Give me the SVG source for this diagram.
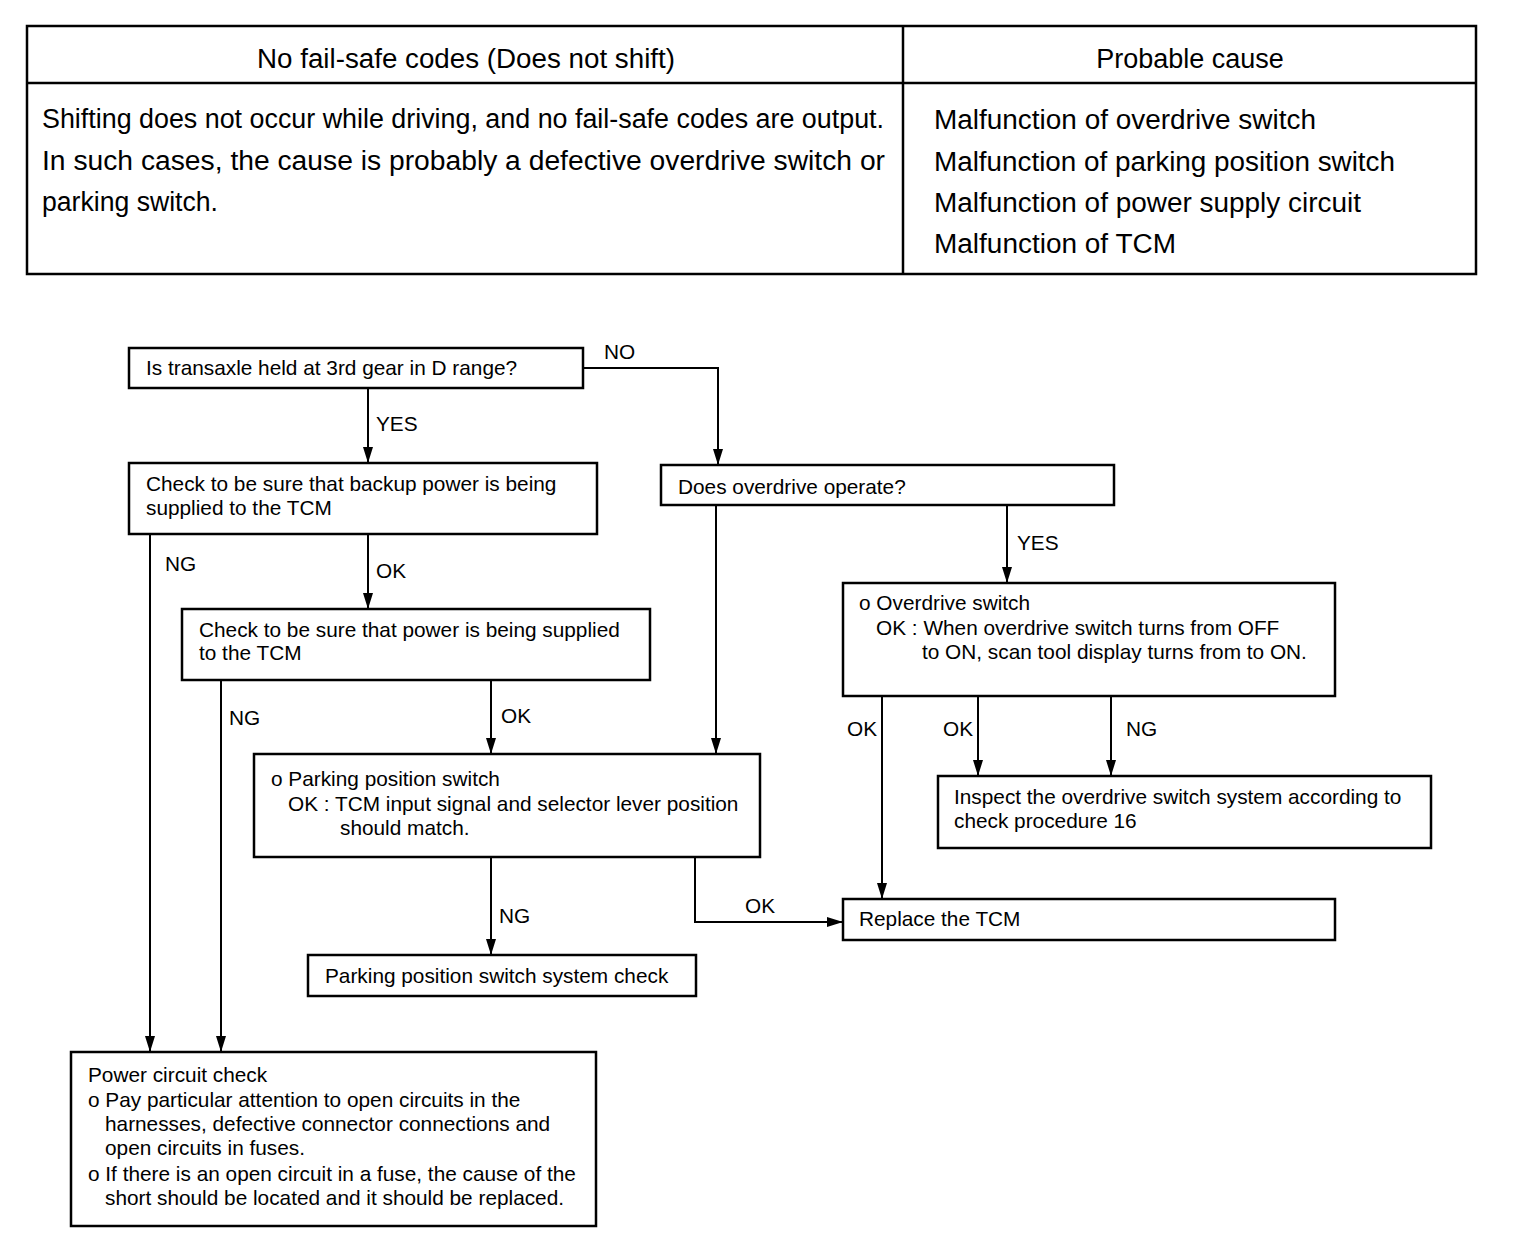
<svg xmlns="http://www.w3.org/2000/svg" width="1536" height="1234" viewBox="0 0 1536 1234">
<style>
  .bg{fill:#fff}
  .box{fill:#fff;stroke:#000;stroke-width:2.5}
  .tl{stroke:#000;stroke-width:2.5;fill:none}
  .t{font-family:"Liberation Sans",Arial,sans-serif;font-size:27px;fill:#000}
  .f{font-family:"Liberation Sans",Arial,sans-serif;font-size:20.8px;fill:#000}
  .c{stroke:#000;stroke-width:2;fill:none}
</style>
<defs>
  <marker id="av" viewBox="0 0 16 10" refX="16" refY="5" markerWidth="16" markerHeight="10" markerUnits="userSpaceOnUse" orient="auto">
    <path d="M0,0 L16,5 L0,10 z" fill="#000"/>
  </marker>
</defs>
<rect class="bg" x="0" y="0" width="1536" height="1234"/>

<g id="table">
  <rect class="tl" x="27" y="26" width="1449" height="248"/>
  <line class="tl" x1="27" y1="83" x2="1476" y2="83"/>
  <line class="tl" x1="903" y1="26" x2="903" y2="274"/>
  <text class="t" x="466" y="68" text-anchor="middle" textLength="418" lengthAdjust="spacingAndGlyphs">No fail-safe codes (Does not shift)</text>
  <text class="t" x="1190" y="68" text-anchor="middle">Probable cause</text>
  <text class="t" x="42" y="128" textLength="842" lengthAdjust="spacingAndGlyphs">Shifting does not occur while driving, and no fail-safe codes are output.</text>
  <text class="t" x="42" y="170" textLength="843" lengthAdjust="spacingAndGlyphs">In such cases, the cause is probably a defective overdrive switch or</text>
  <text class="t" x="42" y="211" textLength="176" lengthAdjust="spacingAndGlyphs">parking switch.</text>
  <text class="t" x="934" y="129" textLength="382" lengthAdjust="spacingAndGlyphs">Malfunction of overdrive switch</text>
  <text class="t" x="934" y="171" textLength="461" lengthAdjust="spacingAndGlyphs">Malfunction of parking position switch</text>
  <text class="t" x="934" y="212" textLength="427" lengthAdjust="spacingAndGlyphs">Malfunction of power supply circuit</text>
  <text class="t" x="934" y="253" textLength="242" lengthAdjust="spacingAndGlyphs">Malfunction of TCM</text>
</g>

<g id="connectors">
  <path class="c" d="M368,388 V463" marker-end="url(#av)"/>
  <path class="c" d="M583,368 H718 V465" marker-end="url(#av)"/>
  <path class="c" d="M150,534 V1052" marker-end="url(#av)"/>
  <path class="c" d="M368,534 V609" marker-end="url(#av)"/>
  <path class="c" d="M221,680 V1052" marker-end="url(#av)"/>
  <path class="c" d="M491,680 V754" marker-end="url(#av)"/>
  <path class="c" d="M716,505 V754" marker-end="url(#av)"/>
  <path class="c" d="M1007,505 V583" marker-end="url(#av)"/>
  <path class="c" d="M882,696 V899" marker-end="url(#av)"/>
  <path class="c" d="M978,696 V776" marker-end="url(#av)"/>
  <path class="c" d="M1111,696 V776" marker-end="url(#av)"/>
  <path class="c" d="M491,857 V955" marker-end="url(#av)"/>
  <path class="c" d="M695,857 V922 H843" marker-end="url(#av)"/>
  <text class="f" x="376" y="431">YES</text>
  <text class="f" x="604" y="359">NO</text>
  <text class="f" x="165" y="571">NG</text>
  <text class="f" x="376" y="578">OK</text>
  <text class="f" x="229" y="725">NG</text>
  <text class="f" x="501" y="723">OK</text>
  <text class="f" x="1017" y="550">YES</text>
  <text class="f" x="847" y="736">OK</text>
  <text class="f" x="943" y="736">OK</text>
  <text class="f" x="1126" y="736">NG</text>
  <text class="f" x="499" y="923">NG</text>
  <text class="f" x="745" y="913">OK</text>
</g>

<g id="n1">
  <rect class="box" x="129" y="348" width="454" height="40"/>
  <text class="f" x="146" y="375">Is transaxle held at 3rd gear in D range?</text>
</g>
<g id="n2">
  <rect class="box" x="129" y="463" width="468" height="71"/>
  <text class="f" x="146" y="491">Check to be sure that backup power is being</text>
  <text class="f" x="146" y="515">supplied to the TCM</text>
</g>
<g id="n3">
  <rect class="box" x="661" y="465" width="453" height="40"/>
  <text class="f" x="678" y="494">Does overdrive operate?</text>
</g>
<g id="n4">
  <rect class="box" x="182" y="609" width="468" height="71"/>
  <text class="f" x="199" y="637">Check to be sure that power is being supplied</text>
  <text class="f" x="199" y="660">to the TCM</text>
</g>
<g id="n5">
  <rect class="box" x="843" y="583" width="492" height="113"/>
  <text class="f" x="859" y="610">o Overdrive switch</text>
  <text class="f" x="876" y="635">OK : When overdrive switch turns from OFF</text>
  <text class="f" x="922" y="659">to ON, scan tool display turns from to ON.</text>
</g>
<g id="n6">
  <rect class="box" x="254" y="754" width="506" height="103"/>
  <text class="f" x="271" y="786">o Parking position switch</text>
  <text class="f" x="288" y="811">OK : TCM input signal and selector lever position</text>
  <text class="f" x="340" y="835">should match.</text>
</g>
<g id="n7">
  <rect class="box" x="938" y="776" width="493" height="72"/>
  <text class="f" x="954" y="804">Inspect the overdrive switch system according to</text>
  <text class="f" x="954" y="828">check procedure 16</text>
</g>
<g id="n8">
  <rect class="box" x="843" y="899" width="492" height="41"/>
  <text class="f" x="859" y="926">Replace the TCM</text>
</g>
<g id="n9">
  <rect class="box" x="308" y="955" width="388" height="41"/>
  <text class="f" x="325" y="983">Parking position switch system check</text>
</g>
<g id="n10">
  <rect class="box" x="71" y="1052" width="525" height="174"/>
  <text class="f" x="88" y="1082">Power circuit check</text>
  <text class="f" x="88" y="1107">o Pay particular attention to open circuits in the</text>
  <text class="f" x="105" y="1131">harnesses, defective connector connections and</text>
  <text class="f" x="105" y="1155">open circuits in fuses.</text>
  <text class="f" x="88" y="1181">o If there is an open circuit in a fuse, the cause of the</text>
  <text class="f" x="105" y="1205">short should be located and it should be replaced.</text>
</g>
</svg>
